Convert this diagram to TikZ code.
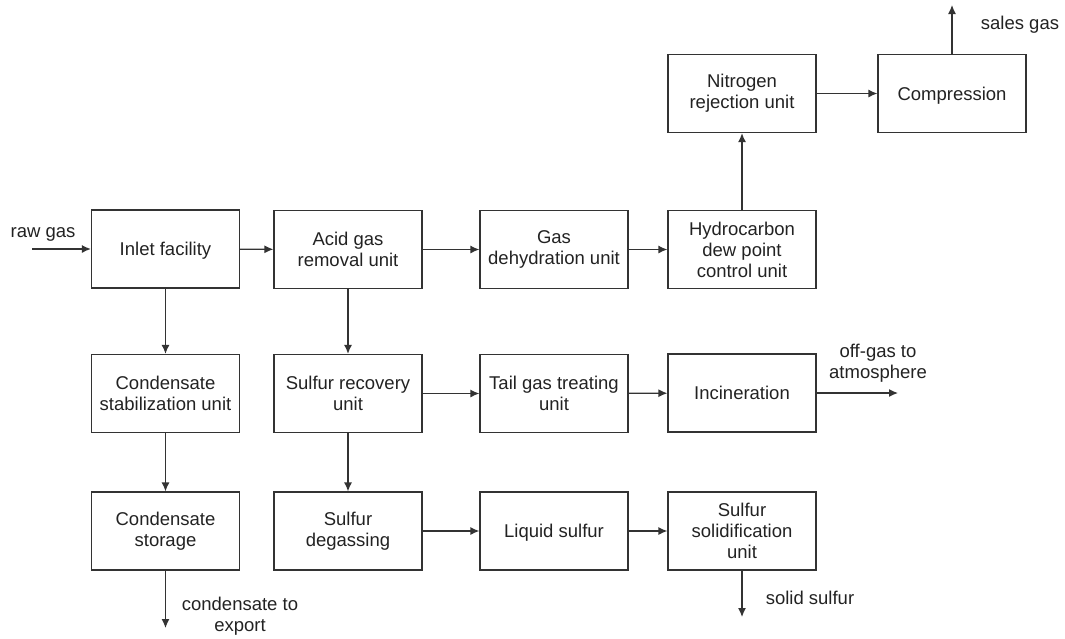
\documentclass[tikz,border=0pt]{standalone}
\usepackage{fontspec}
\setmainfont{Liberation Sans}
\usetikzlibrary{arrows.meta}
\definecolor{linec}{HTML}{333333}
\definecolor{textc}{HTML}{222222}
\begin{document}
\begin{tikzpicture}[x=1pt,y=-1pt,
  every node/.style={font=\fontsize{18.5}{21}\selectfont, text=textc},
  unit/.style={draw=linec, line width=1.25pt, minimum width=148pt, minimum height=78pt, align=center, inner sep=0pt},
  single/.style={text depth=0pt},
  lab/.style={align=center, inner sep=0pt},
  flow/.style={draw=linec, line width=1.25pt, -{Latex[length=9pt,width=8pt]}}]
\useasboundingbox (0,0) rectangle (1065,638);
% row 1
\node[unit,single] (inlet) at (165.5,249) {Inlet facility};
\node[unit] (agr) at (348,249.5) {Acid gas\\removal unit};
\node[unit] (dehy) at (554,249.5) {Gas\\dehydration unit};
\node[unit] (hcdp) at (742,249.5) {Hydrocarbon\\dew point\\control unit};
% top row
\node[unit] (nru) at (742,93.5) {Nitrogen\\rejection unit};
\node[unit,single] (comp) at (952,93.5) {Compression};
% row 2
\node[unit] (stab) at (165.5,393.5) {Condensate\\stabilization unit};
\node[unit] (sru) at (348,393.5) {Sulfur recovery\\unit};
\node[unit] (tgt) at (554,393.5) {Tail gas treating\\unit};
\node[unit,single] (inc) at (742,393) {Incineration};
% row 3
\node[unit] (stor) at (165.5,531) {Condensate\\storage};
\node[unit] (degas) at (348,531) {Sulfur\\degassing};
\node[unit,single] (liq) at (554,531) {Liquid sulfur};
\node[unit] (solid) at (742,531) {Sulfur\\solidification\\unit};
% free ends
\coordinate (rawin) at (32,249);
\coordinate (salesout) at (952,5);
\coordinate (offout) at (898,393);
\coordinate (condout) at (165.5,628);
\coordinate (solidout) at (742,617);
% labels
\node[lab] (lraw) at (43,234) {raw gas};
\node[lab] (lsales) at (1020,25) {sales gas};
\node[lab] (loff) at (878,363) {off-gas to\\atmosphere};
\node[lab] (lcond) at (240,616) {condensate to\\export};
\node[lab] (lsolid) at (810,598) {solid sulfur};
% connectors
\draw[flow] (rawin) -- (rawin -| inlet.west);
\draw[flow] (inlet) -- (agr);
\draw[flow] (agr) -- (dehy);
\draw[flow] (dehy) -- (hcdp);
\draw[flow] (hcdp) -- (nru);
\draw[flow] (nru) -- (comp);
\draw[flow] (comp.north) -- (salesout);
\draw[flow] (inlet) -- (stab);
\draw[flow] (stab) -- (stor);
\draw[flow] (stor.south) -- (condout);
\draw[flow] (agr) -- (sru);
\draw[flow] (sru) -- (tgt);
\draw[flow] (tgt) -- (inc);
\draw[flow] (inc.east) -- (offout);
\draw[flow] (sru) -- (degas);
\draw[flow] (degas) -- (liq);
\draw[flow] (liq) -- (solid);
\draw[flow] (solid.south) -- (solidout);
\end{tikzpicture}
\end{document}
